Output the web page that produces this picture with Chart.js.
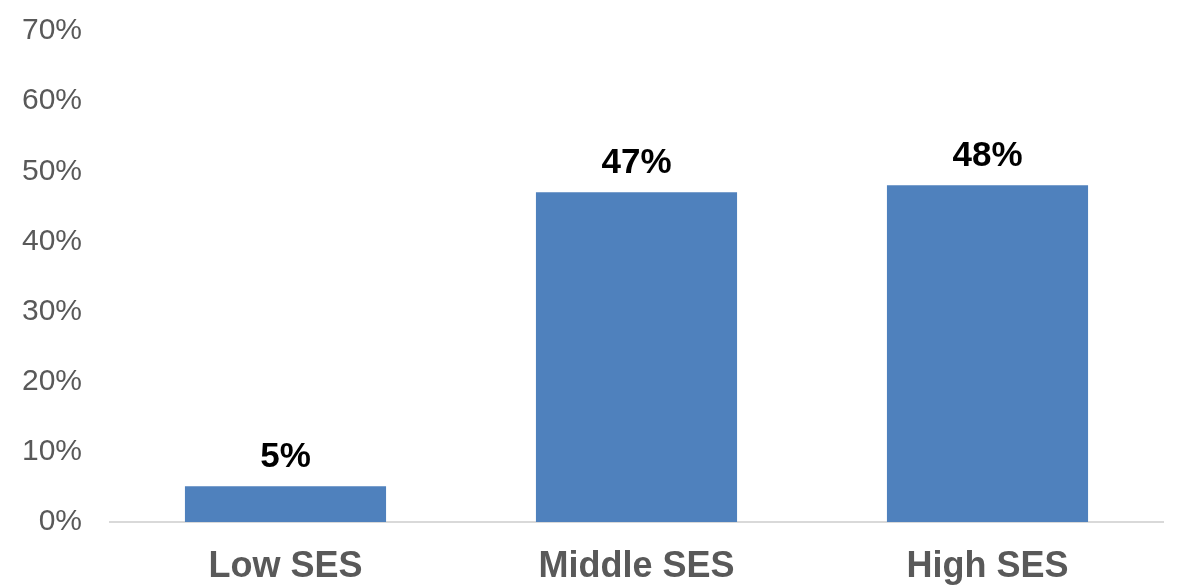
<!DOCTYPE html>
<html>
<head>
<meta charset="utf-8">
<script src="https://cdn.jsdelivr.net/npm/chart.js@4/dist/chart.umd.min.js"></script>
<style>
  html, body { margin: 0; padding: 0; background: #fff; }
  #wrap { width: 1179px; height: 588px; }
</style>
</head>
<body>
<div id="wrap"><canvas id="chart"></canvas></div>
<script>
// donnees
var categories = ['Low SES', 'Middle SES', 'High SES'];
var shares = [5.1, 47, 48];
var yTicks = [0, 10, 20, 30, 40, 50, 60, 70];

// etiquettes au-dessus des barres
var barLabels = {
    id: 'barLabels',
    afterDatasetsDraw: function(chart) {
        var ctx = chart.ctx;
        var meta = chart.getDatasetMeta(0);
        ctx.save();
        ctx.font = 'bold 35px "Liberation Sans", Arial, sans-serif';
        ctx.fillStyle = '#000000';
        ctx.textAlign = 'center';
        ctx.textBaseline = 'alphabetic';
        meta.data.forEach(function(bar, i) {
            ctx.fillText(Math.round(shares[i]) + '%', bar.x, bar.y - 19);
        });
        ctx.restore();
    }
};

var ctx = document.getElementById('chart').getContext('2d');
new Chart(ctx, {
    type: 'bar',
    data: {
        labels: categories,
        datasets: [{
            data: shares,
            backgroundColor: '#4F81BD',
            borderWidth: 0,
            barPercentage: 0.573,
            categoryPercentage: 1
        }]
    },
    options: {
        responsive: true,
        maintainAspectRatio: false,
        animation: false,
        layout: { padding: { top: 31, right: 16, left: 20, bottom: 0 } },
        plugins: {
            legend: { display: false },
            tooltip: { enabled: false }
        },
        scales: {
            x: {
                grid: { display: false, drawTicks: false },
                border: { color: '#d9d9d9', width: 2 },
                afterFit: function(axis) { axis.height = 66; },
                ticks: {
                    color: '#595959',
                    padding: 23,
                    maxRotation: 0,
                    font: { family: '"Liberation Sans", Arial, sans-serif', size: 36, weight: 'bold' }
                }
            },
            y: {
                min: 0,
                max: 70,
                grid: { display: false, drawTicks: false },
                border: { display: false },
                afterFit: function(axis) {
                    axis.width = 90;
                    axis.paddingTop = 0;
                    axis.paddingBottom = 0;
                },
                afterBuildTicks: function(axis) {
                    axis.ticks = yTicks.map(function(v) { return { value: v }; });
                },
                ticks: {
                    color: '#595959',
                    padding: 28,
                    font: { family: '"Liberation Sans", Arial, sans-serif', size: 30 },
                    callback: function(v) { return v + '%'; }
                }
            }
        }
    },
    plugins: [barLabels]
});
</script>
</body>
</html>
